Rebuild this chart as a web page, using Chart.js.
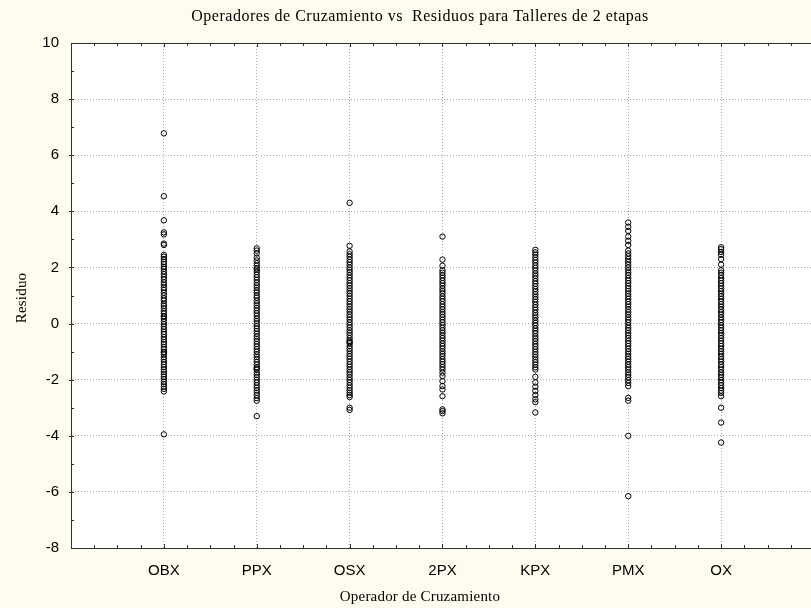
<!DOCTYPE html>
<html>
<head>
<meta charset="utf-8">
<title>Operadores de Cruzamiento vs Residuos</title>
<script src="https://cdn.jsdelivr.net/npm/chart.js@4/dist/chart.umd.min.js"></script>
<style>
  html, body { margin: 0; padding: 0; background: #fefcef; }
  canvas { display: block; }
</style>
</head>
<body>
<canvas id="residuosChart" width="811" height="608"></canvas>
<script>
// Residuos por operador de cruzamiento

const operadores = ['OBX', 'PPX', 'OSX', '2PX', 'KPX', 'PMX', 'OX'];
const yTicks = [-8, -6, -4, -2, 0, 2, 4, 6, 8, 10];

const residuosOBX = [6.78, 4.54, 3.68, 3.25, 3.18, 2.85, 2.8, 2.45, 2.38,
    2.3, 2.2, 2.12, 2.02, 1.95, 1.86, 1.76, 1.66, 1.57, 1.47, 1.38, 1.28, 1.2, 1.1, 1.0,
    0.9, 0.82, 0.71, 0.63, 0.54, 0.44, 0.36, 0.27, 0.25, 0.17, 0.07, -0.02, -0.11, -0.2,
    -0.3, -0.38, -0.48, -0.57, -0.66, -0.74, -0.84, -0.92, -1.01, -1.03, -1.1, -1.2, -1.28,
    -1.37, -1.46, -1.55, -1.64, -1.72, -1.81, -1.9, -1.98, -2.07, -2.16, -2.25, -2.33,
    -2.42, -3.95];

const residuosPPX = [2.68, 2.6, 2.5, 2.35, 2.25, 2.15, 2.06, 1.97, 1.92, 1.84, 1.74,
    1.65, 1.56, 1.46, 1.37, 1.28, 1.18, 1.1, 1.0, 0.92, 0.82, 0.73, 0.64, 0.55, 0.46,
    0.37, 0.28, 0.18, 0.09, 0.0, -0.09, -0.18, -0.27, -0.36, -0.46, -0.55, -0.64, -0.73,
    -0.82, -0.91, -1.0, -1.1, -1.19, -1.28, -1.37, -1.46, -1.55, -1.6, -1.64, -1.74,
    -1.83, -1.92, -2.01, -2.1, -2.2, -2.29, -2.38, -2.47, -2.56, -2.66, -2.75, -3.3];

const residuosOSX = [4.3, 2.77, 2.57, 2.47, 2.38, 2.28, 2.19, 2.1, 2.0, 1.91, 1.82,
    1.72, 1.63, 1.54, 1.44, 1.35, 1.26, 1.16, 1.07, 0.98, 0.88, 0.79, 0.7, 0.6, 0.51,
    0.42, 0.32, 0.23, 0.14, 0.04, -0.05, -0.14, -0.24, -0.33, -0.42, -0.52, -0.61, -0.66,
    -0.7, -0.8, -0.89, -0.98, -1.08, -1.17, -1.26, -1.36, -1.45, -1.54, -1.64, -1.73,
    -1.82, -1.92, -2.01, -2.1, -2.2, -2.29, -2.38, -2.47, -2.55, -2.62, -3.0, -3.08];

const residuosP2X = [3.1, 2.28, 2.06, 1.9, 1.81, 1.72, 1.63, 1.53, 1.44, 1.35, 1.25,
    1.16, 1.07, 0.97, 0.88, 0.79, 0.69, 0.6, 0.51, 0.41, 0.32, 0.23, 0.13, 0.04, -0.05,
    -0.15, -0.24, -0.33, -0.43, -0.52, -0.61, -0.71, -0.8, -0.89, -0.99, -1.08, -1.17,
    -1.27, -1.36, -1.45, -1.55, -1.64, -1.75, -1.87, -2.05, -2.23, -2.35, -2.59, -3.06,
    -3.12, -3.2];

const residuosKPX = [2.63, 2.54, 2.45, 2.35, 2.26, 2.17, 2.07, 1.98, 1.89, 1.79, 1.7,
    1.61, 1.51, 1.42, 1.33, 1.23, 1.14, 1.05, 0.95, 0.86, 0.77, 0.67, 0.58, 0.49, 0.39,
    0.3, 0.21, 0.11, 0.02, -0.07, -0.17, -0.26, -0.35, -0.45, -0.54, -0.63, -0.73, -0.82,
    -0.91, -1.01, -1.1, -1.19, -1.29, -1.38, -1.47, -1.56, -1.64, -1.9, -2.1, -2.25, -2.4,
    -2.55, -2.7, -2.8, -3.17];

const residuosPMX = [3.6, 3.45, 3.3, 3.1, 2.95, 2.8, 2.6, 2.5, 2.4, 2.3, 2.2, 2.1,
    2.0, 1.9, 1.81, 1.72, 1.62, 1.53, 1.44, 1.34, 1.25, 1.16, 1.06, 0.97, 0.88, 0.78,
    0.69, 0.6, 0.5, 0.41, 0.32, 0.22, 0.13, 0.04, -0.06, -0.15, -0.24, -0.34, -0.43,
    -0.52, -0.62, -0.71, -0.8, -0.9, -0.99, -1.08, -1.18, -1.27, -1.36, -1.46, -1.55,
    -1.64, -1.74, -1.83, -1.92, -2.02, -2.12, -2.23, -2.65, -2.75, -4.0, -6.15];

const residuosOX = [2.72, 2.65, 2.55, 2.45, 2.3, 2.1, 1.9, 1.81, 1.72, 1.62, 1.53,
    1.44, 1.34, 1.25, 1.16, 1.06, 0.97, 0.88, 0.78, 0.69, 0.6, 0.5, 0.41, 0.32, 0.22,
    0.13, 0.04, -0.06, -0.15, -0.24, -0.34, -0.43, -0.52, -0.62, -0.71, -0.8, -0.9,
    -0.99, -1.08, -1.18, -1.27, -1.36, -1.46, -1.55, -1.64, -1.74, -1.83, -1.92, -2.02,
    -2.11, -2.2, -2.3, -2.39, -2.47, -2.59, -3.0, -3.53, -4.24];

const seriesResiduos = [residuosOBX, residuosPPX, residuosOSX, residuosP2X,
    residuosKPX, residuosPMX, residuosOX];

function buildPoints() {
    const points = [];
    seriesResiduos.forEach((values, i) => {
        values.forEach(v => points.push({ x: i + 1, y: v }));
    });
    return points;
}

const gridGray = '#a8a8a8';
const axisColor = '#303030';

// Plot area white, inward tick marks, top frame, titles
const framePlugin = {
    id: 'statFrame',
    beforeDraw(chart) {
        const { ctx, chartArea: a } = chart;
        ctx.save();
        ctx.fillStyle = '#ffffff';
        ctx.fillRect(a.left, a.top, a.right - a.left, a.bottom - a.top);
        ctx.restore();
    },
    afterDraw(chart) {
        const { ctx, chartArea: a } = chart;
        const xs = chart.scales.x;
        const ys = chart.scales.y;
        ctx.save();
        ctx.strokeStyle = axisColor;
        ctx.lineWidth = 1;

        // top frame line
        ctx.beginPath();
        ctx.moveTo(a.left, a.top + 0.5);
        ctx.lineTo(a.right, a.top + 0.5);
        ctx.stroke();

        // x ticks (quarters) on bottom and top
        ctx.beginPath();
        for (let v = 0.25; v < xs.max; v += 0.25) {
            const px = Math.round(xs.getPixelForValue(v)) + 0.5;
            const len = Number.isInteger(v) ? 4 : 3;
            ctx.moveTo(px, a.bottom);
            ctx.lineTo(px, a.bottom - len);
            ctx.moveTo(px, a.top);
            ctx.lineTo(px, a.top + len);
        }
        // y ticks every unit
        for (let v = -7; v <= 9; v++) {
            const py = Math.round(ys.getPixelForValue(v)) + 0.5;
            ctx.moveTo(a.left - (v % 2 === 0 ? 2 : 0), py);
            ctx.lineTo(a.left + 3, py);
        }
        ctx.stroke();

        // titles
        ctx.fillStyle = '#000000';
        ctx.textAlign = 'center';
        ctx.textBaseline = 'middle';
        ctx.font = '16px "Liberation Serif", "Times New Roman", serif';
        ctx.letterSpacing = '0.5px';
        ctx.fillText('Operadores de Cruzamiento vs  Residuos para Talleres de 2 etapas', 420, 17);
        ctx.font = '15px "Liberation Serif", "Times New Roman", serif';
        ctx.letterSpacing = '0.2px';
        ctx.fillText('Operador de Cruzamiento', 420, 597);
        ctx.translate(22, 298);
        ctx.rotate(-Math.PI / 2);
        ctx.fillText('Residuo', 0, 0);
        ctx.restore();
    }
};

function createChart() {
    const ctx = document.getElementById('residuosChart').getContext('2d');
    return new Chart(ctx, {
        type: 'scatter',
        data: {
            datasets: [{
                label: 'Residuo',
                data: buildPoints(),
                pointStyle: 'circle',
                pointRadius: 2.7,
                pointBorderWidth: 1,
                borderColor: '#000000',
                backgroundColor: 'rgba(0,0,0,0)'
            }]
        },
        options: {
            responsive: false,
            animation: false,
            layout: { autoPadding: false, padding: { top: 43, left: 0, right: 0, bottom: 0 } },
            plugins: {
                legend: { display: false },
                tooltip: { enabled: false }
            },
            scales: {
                x: {
                    type: 'linear',
                    min: 0,
                    max: 7.968,
                    afterFit(scale) {
                        scale.height = 60;
                        scale.paddingLeft = 0;
                        scale.paddingRight = 0;
                    },
                    ticks: {
                        stepSize: 0.25,
                        autoSkip: false,
                        maxRotation: 0,
                        padding: 14,
                        color: '#000000',
                        font: { family: '"Liberation Sans", Arial, sans-serif', size: 15 },
                        callback: v => Number.isInteger(v) && v >= 1 && v <= operadores.length ? operadores[v - 1] : ''
                    },
                    grid: {
                        drawTicks: false,
                        color: c => {
                            const v = c.tick ? c.tick.value : null;
                            return Number.isInteger(v) && v >= 1 && v <= 7 ? gridGray : 'rgba(0,0,0,0)';
                        }
                    },
                    border: { display: true, color: axisColor, width: 1, dash: [1, 2] }
                },
                y: {
                    type: 'linear',
                    min: -8,
                    max: 10,
                    afterFit(scale) { scale.width = 71; },
                    ticks: {
                        stepSize: 1,
                        padding: 12,
                        color: '#000000',
                        font: { family: '"Liberation Sans", Arial, sans-serif', size: 15 },
                        callback: v => yTicks.includes(v) ? String(v) : ''
                    },
                    grid: {
                        drawTicks: false,
                        color: c => {
                            const v = c.tick ? c.tick.value : null;
                            return yTicks.includes(v) && v > -8 && v < 10 ? gridGray : 'rgba(0,0,0,0)';
                        }
                    },
                    border: { display: true, color: axisColor, width: 1, dash: [1, 2] }
                }
            }
        },
        plugins: [framePlugin]
    });
}

document.addEventListener('DOMContentLoaded', createChart);
</script>
</body>
</html>
